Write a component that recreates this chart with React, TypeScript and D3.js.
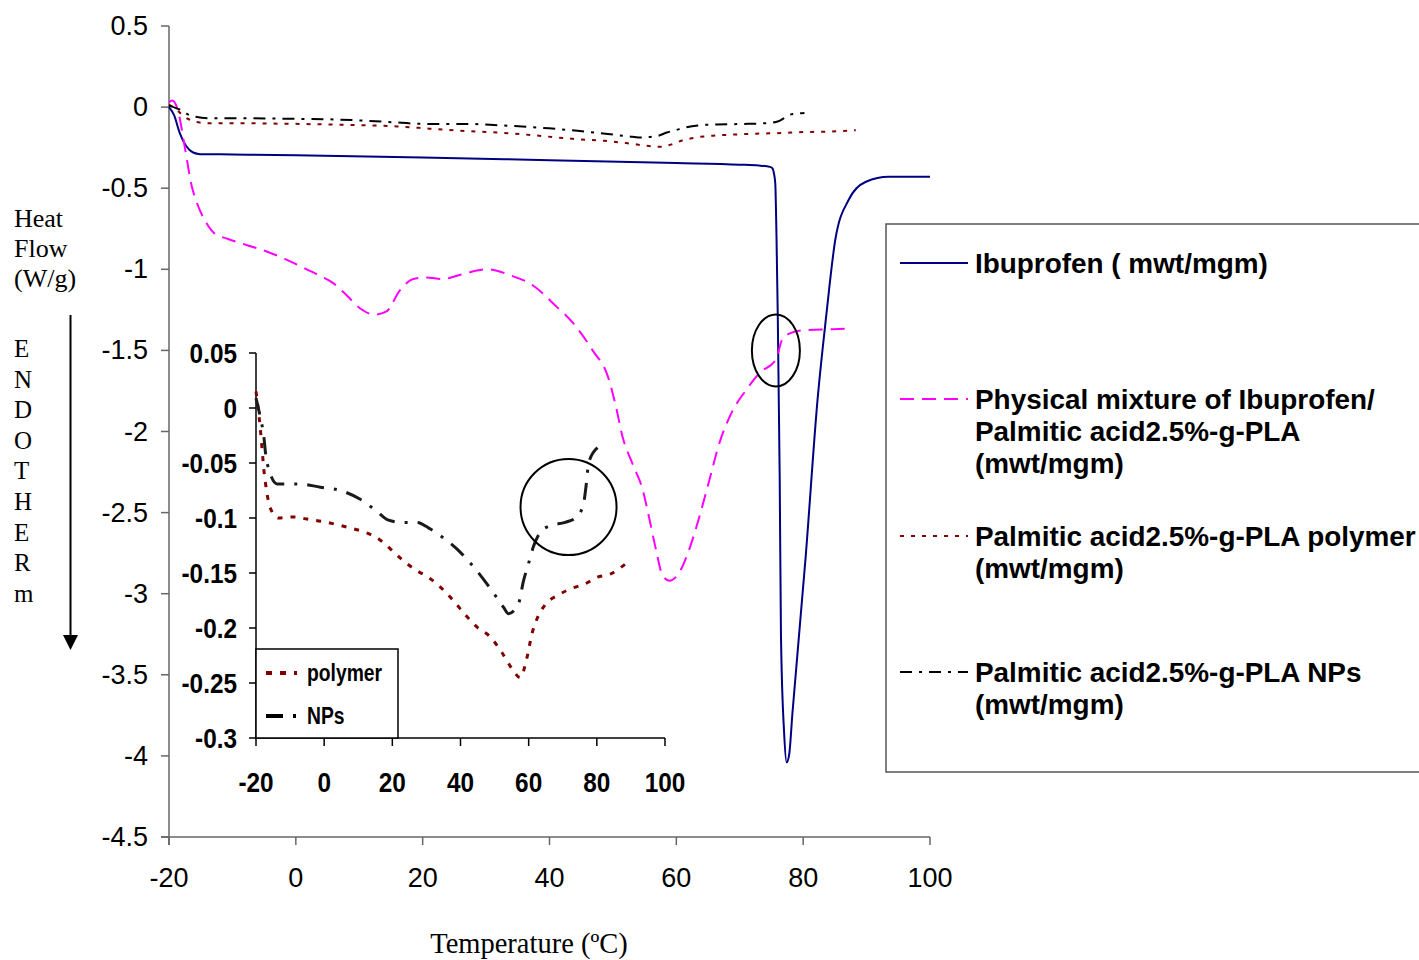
import React from "react";
import * as d3 from "d3";

// Axis ticks
const mainXTicks = [-20, 0, 20, 40, 60, 80, 100];
const mainYTicks = [0.5, 0, -0.5, -1, -1.5, -2, -2.5, -3, -3.5, -4, -4.5];
const insetXTicks = [-20, 0, 20, 40, 60, 80, 100];
const insetYTicks = [0.05, 0, -0.05, -0.1, -0.15, -0.2, -0.25, -0.3];

// Ibuprofen
const ibuprofenTemp = [-20, -19.2, -18.3, -17.3, -16.2, -15.1, -10, 0, 20, 40, 60, 70, 73, 74.9, 75.2, 75.4, 75.6, 75.8, 76.0, 76.3, 76.5, 77.0, 77.4, 77.8, 78.3, 80.4, 82.3, 83.6, 85.1, 87.2, 89.9, 93.5, 100];
const ibuprofenFlow = [0, -0.05, -0.16, -0.24, -0.28, -0.29, -0.292, -0.297, -0.31, -0.328, -0.345, -0.355, -0.36, -0.37, -0.38, -0.41, -0.47, -0.81, -1.3, -2.28, -3.26, -3.86, -4.04, -3.99, -3.74, -2.77, -1.79, -1.3, -0.81, -0.57, -0.46, -0.43, -0.43];

// Physical mixture of Ibuprofen / Palmitic acid2.5%-g-PLA
const mixtureTemp = [-20, -19.5, -18.6, -17.5, -16.4, -15.6, -14.1, -12.8, -10.9, -7.8, -4.6, -1.5, 1.7, 3.8, 5.9, 8.0, 10.1, 12.4, 14.3, 16.4, 18.5, 20.6, 23.2, 25.8, 30.3, 33.7, 37.4, 41.1, 43.7, 46.8, 49.2, 50.5, 51.5, 53.1, 54.7, 55.7, 56.8, 57.8, 58.9, 60.2, 62.0, 63.6, 65.2, 66.8, 68.9, 71.0, 73.1, 75.8, 76.6, 77.9, 80.4, 84.6, 87.8];
const mixtureFlow = [0.03, 0.04, -0.02, -0.25, -0.49, -0.59, -0.715, -0.78, -0.81, -0.85, -0.89, -0.94, -1.0, -1.04, -1.085, -1.16, -1.24, -1.28, -1.26, -1.13, -1.06, -1.05, -1.06, -1.035, -1.0, -1.035, -1.1, -1.23, -1.33, -1.5, -1.66, -1.85, -2.03, -2.2, -2.36, -2.53, -2.73, -2.885, -2.92, -2.885, -2.73, -2.53, -2.3, -2.07, -1.87, -1.745, -1.64, -1.55, -1.44, -1.395, -1.375, -1.37, -1.365];

// Palmitic acid2.5%-g-PLA polymer
const polymerTemp = [-20, -18.7, -18.2, -17.7, -16.9, -15.8, -13.4, -9.0, -5.0, -0.7, 3.7, 7.6, 12.0, 16.0, 19.4, 23.3, 26.7, 30.6, 34.5, 37.9, 41.4, 44.8, 48.7, 52.1, 55.1, 57.5, 59.5, 60.9, 62.4, 64.8, 68.7, 72.6, 76.5, 80.0, 83.9, 88.3];
const polymerFlow = [0.015, -0.02, -0.038, -0.056, -0.075, -0.091, -0.1, -0.099, -0.101, -0.103, -0.106, -0.109, -0.113, -0.119, -0.128, -0.139, -0.147, -0.154, -0.164, -0.175, -0.188, -0.199, -0.208, -0.222, -0.237, -0.245, -0.227, -0.206, -0.192, -0.179, -0.17, -0.164, -0.16, -0.154, -0.151, -0.142];

// Palmitic acid2.5%-g-PLA NPs
const npsTemp = [-20, -18.7, -17.7, -17.2, -16.0, -13.8, -7.5, -1.1, 4.8, 10.6, 15.5, 18.9, 22.8, 27.2, 30.6, 34.5, 39.9, 44.8, 49.2, 52.6, 54.1, 57.0, 58.5, 60.0, 61.4, 63.4, 66.3, 70.7, 74.1, 76.1, 76.8, 77.6, 80.2];
const npsFlow = [0.009, -0.009, -0.026, -0.041, -0.058, -0.069, -0.069, -0.072, -0.075, -0.083, -0.094, -0.102, -0.104, -0.104, -0.109, -0.117, -0.131, -0.148, -0.166, -0.181, -0.187, -0.178, -0.157, -0.141, -0.126, -0.113, -0.107, -0.104, -0.099, -0.087, -0.072, -0.05, -0.036];

const legendLabels = [
  ["Ibuprofen ( mwt/mgm)"],
  ["Physical mixture of Ibuprofen/", "Palmitic acid2.5%-g-PLA", "(mwt/mgm)"],
  ["Palmitic acid2.5%-g-PLA polymer", "(mwt/mgm)"],
  ["Palmitic acid2.5%-g-PLA NPs", "(mwt/mgm)"],
];
const insetLegendLabels = ["polymer", "NPs"];
const sideLetters = ["E", "N", "D", "O", "T", "H", "E", "R", "m"];

const SANS = "'Liberation Sans', Arial, sans-serif";
const SERIF = "'Liberation Serif', 'Times New Roman', serif";

const xMain = d3.scaleLinear().domain([-20, 100]).range([169, 930]);
const yMain = d3.scaleLinear().domain([0.5, -4.5]).range([26, 837]);
const xIn = d3.scaleLinear().domain([-20, 100]).range([256, 665]);
const yIn = d3.scaleLinear().domain([0.05, -0.3]).range([353, 738]);

function pathFor(
  ts: number[],
  vs: number[],
  xs: d3.ScaleLinear<number, number>,
  ys: d3.ScaleLinear<number, number>
) {
  const pts = ts.map((t, i) => [t, vs[i]] as [number, number]);
  return (
    d3
      .line<[number, number]>()
      .x((d) => xs(d[0]))
      .y((d) => ys(d[1]))
      .curve(d3.curveMonotoneX)(pts) || ""
  );
}

// Condensed bold label (horizontally squeezed sans)
function Narrow(props: { x: number; y: number; size: number; anchor?: string; squeeze?: number; children: React.ReactNode }) {
  const k = props.squeeze ?? 0.87;
  return (
    <text
      transform={`translate(${props.x},${props.y}) scale(${k},1)`}
      textAnchor={props.anchor ?? "start"}
      fontFamily={SANS}
      fontWeight="bold"
      fontSize={props.size}
      fill="#000"
    >
      {props.children}
    </text>
  );
}

export default function App() {
  const mainSeries = [
    { t: ibuprofenTemp, v: ibuprofenFlow, color: "#000080", dash: undefined, w: 2 },
    { t: mixtureTemp, v: mixtureFlow, color: "#FF00FF", dash: "14,8", w: 2 },
    { t: polymerTemp, v: polymerFlow, color: "#800000", dash: "4,7", w: 2 },
    { t: npsTemp, v: npsFlow, color: "#000000", dash: "12,7,3,7", w: 2 },
  ];
  const legendRows = [263, 399, 536, 672];

  return (
    <svg width={1419} height={960} style={{ display: "block", position: "absolute", left: 0, top: 0, background: "#fff" }}>
      <rect x={0} y={0} width={1419} height={960} fill="#fff" />

      {/* main axes */}
      <line x1={169} y1={26} x2={169} y2={845} stroke="#666" strokeWidth={1.5} />
      <line x1={161} y1={837} x2={930} y2={837} stroke="#666" strokeWidth={1.5} />
      {mainYTicks.map((v) => (
        <g key={"my" + v}>
          <line x1={161} x2={169} y1={yMain(v)} y2={yMain(v)} stroke="#666" strokeWidth={1.5} />
          <text x={148} y={yMain(v) + 9} textAnchor="end" fontFamily={SANS} fontSize={27} fill="#000">
            {String(v)}
          </text>
        </g>
      ))}
      {mainXTicks.map((t) => (
        <g key={"mx" + t}>
          <line x1={xMain(t)} x2={xMain(t)} y1={837} y2={845} stroke="#666" strokeWidth={1.5} />
          <text x={xMain(t)} y={887} textAnchor="middle" fontFamily={SANS} fontSize={27} fill="#000">
            {String(t)}
          </text>
        </g>
      ))}

      {/* axis titles */}
      <text fontFamily={SERIF} fontSize={26} fill="#000">
        <tspan x={14} y={227}>Heat</tspan>
        <tspan x={14} y={257}>Flow</tspan>
        <tspan x={14} y={287}>(W/g)</tspan>
      </text>
      {sideLetters.map((c, i) => (
        <text key={"sl" + i} x={14} y={357 + i * 30.6} fontFamily={SERIF} fontSize={25} fill="#000">
          {c}
        </text>
      ))}
      <line x1={70.5} y1={315} x2={70.5} y2={637} stroke="#000" strokeWidth={2} />
      <path d="M63,635 L78,635 L70.5,650 Z" fill="#000" />
      <text x={529} y={953} textAnchor="middle" fontFamily={SERIF} fontSize={28.5} fill="#000">
        Temperature (ºC)
      </text>

      {/* main curves */}
      {mainSeries.map((s, i) => (
        <path
          key={"ms" + i}
          d={pathFor(s.t, s.v, xMain, yMain)}
          fill="none"
          stroke={s.color}
          strokeWidth={s.w}
          strokeDasharray={s.dash}
        />
      ))}
      <ellipse cx={xMain(75.7)} cy={yMain(-1.5)} rx={24} ry={36} fill="none" stroke="#000" strokeWidth={2} />

      {/* legend */}
      <rect x={886} y={224} width={545} height={548} fill="none" stroke="#555" strokeWidth={1.5} />
      {legendLabels.map((lines, i) => (
        <g key={"lg" + i}>
          <line
            x1={900}
            x2={968}
            y1={legendRows[i]}
            y2={legendRows[i]}
            stroke={mainSeries[i].color}
            strokeWidth={2}
            strokeDasharray={mainSeries[i].dash}
          />
          <text fontFamily={SANS} fontWeight="bold" fontSize={27.9} fill="#000">
            {lines.map((ln, j) => (
              <tspan key={j} x={975} y={legendRows[i] + 10 + j * 32}>
                {ln}
              </tspan>
            ))}
          </text>
        </g>
      ))}

      {/* inset */}
      <line x1={256} y1={353} x2={256} y2={738} stroke="#000" strokeWidth={1.5} />
      <line x1={256} y1={738} x2={665} y2={738} stroke="#000" strokeWidth={1.5} />
      {insetYTicks.map((v) => (
        <g key={"iy" + v}>
          <line x1={249} x2={256} y1={yIn(v)} y2={yIn(v)} stroke="#000" strokeWidth={1.5} />
          <Narrow x={237} y={yIn(v) + 10} size={28} anchor="end">
            {String(v)}
          </Narrow>
        </g>
      ))}
      {insetXTicks.map((t) => (
        <g key={"ix" + t}>
          <line x1={xIn(t)} x2={xIn(t)} y1={738} y2={746} stroke="#000" strokeWidth={1.5} />
          <Narrow x={xIn(t)} y={792} size={28} anchor="middle">
            {String(t)}
          </Narrow>
        </g>
      ))}
      <path d={pathFor(polymerTemp, polymerFlow, xIn, yIn)} fill="none" stroke="#800000" strokeWidth={3} strokeDasharray="5,8" />
      <path d={pathFor(npsTemp, npsFlow, xIn, yIn)} fill="none" stroke="#1a1a1a" strokeWidth={3} strokeDasharray="17,10,3,10" />
      <circle cx={xIn(71.7)} cy={yIn(-0.09)} r={48} fill="none" stroke="#000" strokeWidth={2} />

      <rect x={256} y={649} width={142} height={89} fill="#fff" stroke="#000" strokeWidth={1.5} />
      <line x1={266} x2={297} y1={673} y2={673} stroke="#800000" strokeWidth={4} strokeDasharray="6,8" />
      <line x1={266} x2={299} y1={716} y2={716} stroke="#000" strokeWidth={4} strokeDasharray="17,10,3,10" />
      {insetLegendLabels.map((lb, i) => (
        <Narrow key={"il" + i} x={307} y={681 + i * 43} size={23} squeeze={0.84}>
          {lb}
        </Narrow>
      ))}
    </svg>
  );
}
